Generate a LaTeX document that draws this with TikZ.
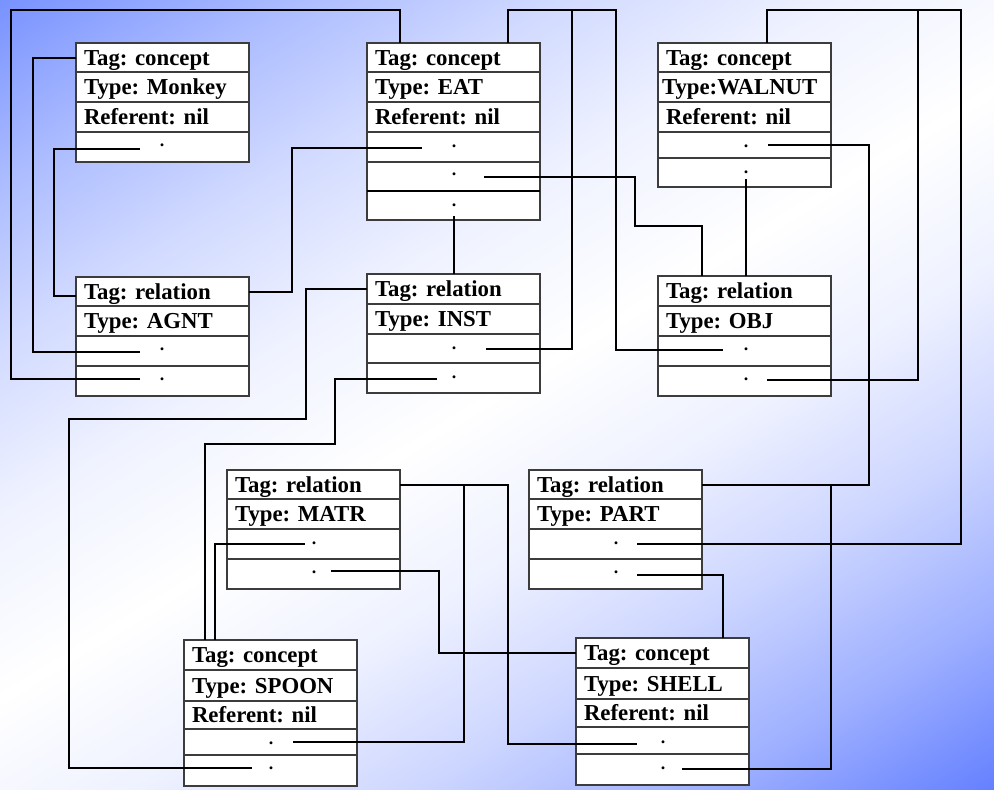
\documentclass[tikz,border=0pt]{standalone}
\usepackage{fontspec}
\setmainfont{Liberation Serif}
\usetikzlibrary{calc}
\definecolor{bgA}{RGB}{120,146,255}
\definecolor{bgB}{RGB}{100,128,255}
\definecolor{cellline}{RGB}{60,60,60}
\pgfdeclarehorizontalshading{bgshade}{100bp}{color(0bp)=(bgA); color(25bp)=(bgA);
  color(31.25bp)=(bgA!63!white); color(37.5bp)=(bgA!33!white); color(43.75bp)=(bgA!11!white);
  color(50bp)=(white);
  color(56.25bp)=(bgB!11!white); color(62.5bp)=(bgB!33!white); color(68.75bp)=(bgB!63!white);
  color(75bp)=(bgB); color(100bp)=(bgB)}
\frenchspacing
\begin{document}
\begin{tikzpicture}[x=1pt,y=-1pt,
  cell/.style={draw=cellline, line width=1.3pt, fill=white, anchor=north west, outer sep=0pt,
    inner xsep=8pt, inner ysep=0pt, text width=157pt, align=left, text height=17pt, text depth=2pt,
    minimum height=#1, font=\fontsize{22.8}{25}\selectfont\bfseries},
  cell/.default=30pt,
  dotmark/.style={inner sep=0pt, outer sep=0pt, font=\fontsize{18}{20}\selectfont\bfseries},
  conn/.style={draw=black, line width=2pt}]
\useasboundingbox (0,0) rectangle (994,790);
\begin{scope}
  \clip (0,0) rectangle (994,790);
  \begin{scope}[transform canvas={rotate around={-58.5:(497,395)}}]
    \shade[shading=bgshade] (-99.6,-245) rectangle (1093.6,1035);
  \end{scope}
\end{scope}

% Monkey
\node[cell=29pt] (mk1) at (76,43) {Tag: concept};
\node[cell=30pt] (mk2) at (76,72) {Type: Monkey};
\node[cell=30pt] (mk3) at (76,102) {Referent: nil};
\node[cell=30pt] (mk4) at (76,132) {};
% AGNT
\node[cell=29pt] (ag1) at (76,277) {Tag: relation};
\node[cell=30pt] (ag2) at (76,306) {Type: AGNT};
\node[cell=30pt] (ag3) at (76,336) {};
\node[cell=30pt] (ag4) at (76,366) {};
% EAT
\node[cell=29pt] (ea1) at (367,43) {Tag: concept};
\node[cell=30pt] (ea2) at (367,72) {Type: EAT};
\node[cell=30pt] (ea3) at (367,102) {Referent: nil};
\node[cell=30pt] (ea4) at (367,132) {};
\node[cell=29pt] (ea5) at (367,162) {};
\node[cell=29pt] (ea6) at (367,191) {};
\draw[line width=2pt] (ea6.north west) -- (ea6.north east);
% INST
\node[cell=30pt] (in1) at (367,274) {Tag: relation};
\node[cell=30pt] (in2) at (367,304) {Type: INST};
\node[cell=29pt] (in3) at (367,334) {};
\node[cell=30pt] (in4) at (367,363) {};
% WALNUT
\node[cell=29pt] (wa1) at (658,43) {Tag: concept};
\node[cell=30pt, inner xsep=4pt, text width=165pt] (wa2) at (658,72) {Type:WALNUT};
\node[cell=30pt] (wa3) at (658,102) {Referent: nil};
\node[cell=26pt] (wa4) at (658,132) {};
\node[cell=29pt] (wa5) at (658,158) {};
% OBJ
\node[cell=30pt] (ob1) at (658,276) {Tag: relation};
\node[cell=30pt] (ob2) at (658,306) {Type: OBJ};
\node[cell=30pt] (ob3) at (658,336) {};
\node[cell=30pt] (ob4) at (658,366) {};
% MATR
\node[cell=29pt] (ma1) at (227,470) {Tag: relation};
\node[cell=30pt] (ma2) at (227,499) {Type: MATR};
\node[cell=30pt] (ma3) at (227,529) {};
\node[cell=30pt] (ma4) at (227,559) {};
% SPOON
\node[cell=30pt] (sp1) at (184,640) {Tag: concept};
\node[cell=31pt] (sp2) at (184,670) {Type: SPOON};
\node[cell=28pt] (sp3) at (184,701) {Referent: nil};
\node[cell=26pt] (sp4) at (184,729) {};
\node[cell=31pt] (sp5) at (184,755) {};
% PART
\node[cell=29pt] (pa1) at (529,470) {Tag: relation};
\node[cell=30pt] (pa2) at (529,499) {Type: PART};
\node[cell=30pt] (pa3) at (529,529) {};
\node[cell=30pt] (pa4) at (529,559) {};
% SHELL
\node[cell=30pt] (sh1) at (576,638) {Tag: concept};
\node[cell=31pt] (sh2) at (576,668) {Type: SHELL};
\node[cell=28pt] (sh3) at (576,699) {Referent: nil};
\node[cell=27pt] (sh4) at (576,727) {};
\node[cell=31pt] (sh5) at (576,754) {};

% dots
\node[dotmark] (mkd) at (162,145) {.};
\node[dotmark] (agd1) at (162,349) {.};
\node[dotmark] (agd2) at (162,379) {.};
\node[dotmark] (ead1) at (454,146) {.};
\node[dotmark] (ead2) at (454,174) {.};
\node[dotmark] (ead3) at (454,205) {.};
\node[dotmark] (ind1) at (454,348) {.};
\node[dotmark] (ind2) at (454,377) {.};
\node[dotmark] (wad1) at (746,146) {.};
\node[dotmark] (wad2) at (746,172) {.};
\node[dotmark] (obd1) at (746,349) {.};
\node[dotmark] (obd2) at (746,379) {.};
\node[dotmark] (mad1) at (314,543) {.};
\node[dotmark] (mad2) at (314,572) {.};
\node[dotmark] (spd1) at (271,743) {.};
\node[dotmark] (spd2) at (271,768) {.};
\node[dotmark] (pad1) at (616,543) {.};
\node[dotmark] (pad2) at (616,572) {.};
\node[dotmark] (shd1) at (663,742) {.};
\node[dotmark] (shd2) at (663,768) {.};

% connectors
\draw[conn] ($(agd2)+(-22,0)$) -| (11,10) -| ($(ea1.north west)+(33,0)$);
\draw[conn] ($(agd1)+(-22,3)$) -| ($(mk1.west)+(-43,0)$) -- (mk1.west);
\draw[conn] ($(mkd)+(-22,4)$) -| ($(ag1.west)+(-22,4)$) -- ($(ag1.west)+(0,4)$);
\draw[conn] (ag1.east) -- ++(43,0) |- ($(ead1)+(-32,2)$);
\draw[conn] (in1.west) -| (306,419) -| (69,768) -- ($(spd2)+(-19,0)$);
\draw[conn] ($(ind2)+(-17,2)$) -| (335,444) -| ($(sp1.north west)+(21,0)$);
\draw[conn] ($(mad1)+(-9,1)$) -| ($(sp1.north west)+(31,0)$);
\draw[conn] ($(mad2)+(17,-1)$) -| ($(sh1.west)+(-137,0)$) -- (sh1.west);
\draw[conn] (ma1.east) -| ($(spd1)+(193,-1)$) -- ($(spd1)+(22,-1)$);
\draw[conn] (ma1.east) -| ($(shd1)+(-155,2)$) -- ($(shd1)+(-26,2)$);
\draw[conn] ($(wad1)+(22,-1)$) -| ($(pa1.east)+(167,0)$) -- (pa1.east);
\draw[conn] ($(pad1)+(21,1)$) -| (961,10) -| ($(wa1.north west)+(109,0)$);
\draw[conn] ($(obd2)+(21,1)$) -| (918,10) -| ($(wa1.north west)+(109,0)$);
\draw[conn] ($(pad2)+(21,3)$) -| ($(sh1.north west)+(147,0)$);
\draw[conn] ($(shd2)+(19,1)$) -| ($(pa1.east)+(129,0)$);
\draw[conn] ($(ind1)+(32,1)$) -| (572,10) -| ($(ea1.north west)+(141,0)$);
\draw[conn] ($(obd1)+(-23,1)$) -| (616,10) -| ($(ea1.north west)+(141,0)$);
\draw[conn] ($(ead2)+(30,3)$) -| (635,226) -| ($(ob1.north west)+(44,0)$);
\draw[conn] ($(ead3)+(0,11)$) -- (ead3 |- in1.north);
\draw[conn] ($(wad2)+(0,7)$) -- (wad2 |- ob1.north);
\end{tikzpicture}
\end{document}
